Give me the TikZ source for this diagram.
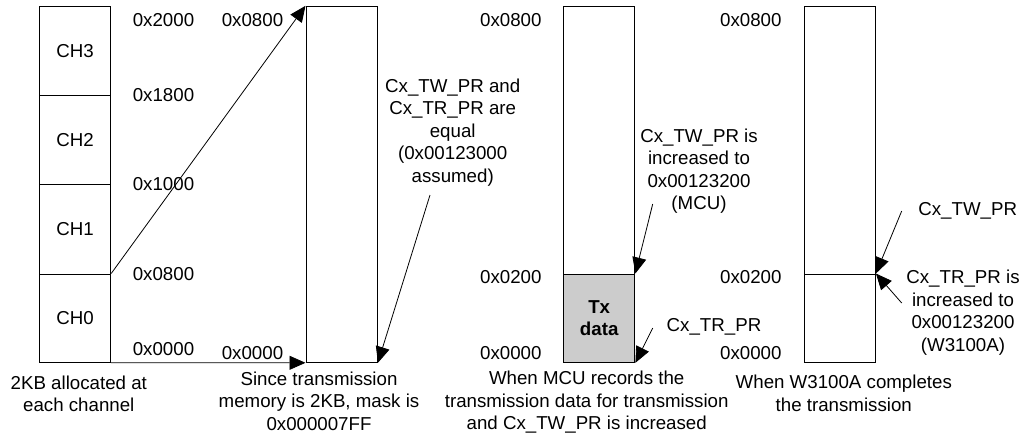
\documentclass[tikz,border=0pt]{standalone}
\usepackage{fontspec}
\setmainfont{Liberation Sans}
\usetikzlibrary{arrows.meta}
\definecolor{txgray}{HTML}{CCCCCC}
\begin{document}
\begin{tikzpicture}[x=1pt,y=-1pt,
  font=\fontsize{18.7}{22.5}\selectfont,
  membox/.style={draw,line width=1pt,minimum width=71.4pt,inner sep=0pt},
  lbl/.style={inner sep=0pt,align=center},
  arr/.style={line width=0.8pt,-{Triangle[length=16pt,width=14pt]}},
  ln/.style={line width=0.8pt}]
\useasboundingbox (0,0) rectangle (1025,440);
% channel box
\node[membox,minimum height=89.4pt] (ch3) at (75,51.0) {CH3};
\node[membox,minimum height=88.6pt] (ch2) at (75,140.0) {CH2};
\node[membox,minimum height=89.7pt] (ch1) at (75,229.15) {CH1};
\node[membox,minimum height=88.3pt] (ch0) at (75,318.15) {CH0};
\node[lbl] (a2000) at (163.5,20) {0x2000};
\node[lbl] (a1800) at (163.5,95) {0x1800};
\node[lbl] (a1000) at (163.5,184) {0x1000};
\node[lbl] (a0800) at (163.5,274) {0x0800};
\node[lbl] (a0000) at (163.5,349) {0x0000};
\node[lbl] (cap1) at (78.8,394) {2KB allocated at\\each channel};
% box 2
\node[membox,minimum height=356pt] (m2) at (341.7,184.3) {};
\node[lbl] (b0800) at (252.5,20) {0x0800};
\node[lbl] (b0000) at (252.5,353) {0x0000};
\node[lbl] (note1) at (452.7,132.3) {Cx\_TW\_PR and\\Cx\_TR\_PR are\\equal\\(0x00123000\\assumed)};
\coordinate (n1s) at (430,195);
\node[lbl] (cap2) at (319,401) {Since transmission\\memory is 2KB, mask is\\0x000007FF};
\draw[arr] (ch0.north east) -- (m2.north west);
\draw[arr] (ch0.south east) -- (m2.south west);
\draw[arr] (n1s) -- (m2.south east);
% box 3
\node[membox,minimum height=356pt] (m3) at (599.2,184.3) {};
\node[membox,minimum height=88.3pt,fill=txgray,font=\fontsize{18.7}{22.5}\selectfont\bfseries,align=center] (tx) at (599.2,318.15) {Tx\\data};
\node[lbl] (c0800) at (510.8,20) {0x0800};
\node[lbl] (c0200) at (510.8,277) {0x0200};
\node[lbl] (c0000) at (510.8,353) {0x0000};
\node[lbl] (note3) at (699,171) {Cx\_TW\_PR is\\increased to\\0x00123200\\(MCU)};
\node[lbl] (trpr3) at (714,326.7) {Cx\_TR\_PR};
\coordinate (n3s) at (652.7,204);
\coordinate (t3s) at (652.7,328);
\draw[arr] (n3s) -- (tx.north east);
\draw[arr] (t3s) -- (tx.south east);
\node[lbl] (cap3) at (586.7,402.5) {When MCU records the\\transmission data for transmission\\and Cx\_TW\_PR is increased};
% box 4
\node[membox,minimum height=356pt] (m4) at (839.7,184.3) {};
\node[membox,minimum height=88.3pt] (m4b) at (839.7,318.15) {};
\node[lbl] (d0800) at (750.8,20) {0x0800};
\node[lbl] (d0200) at (750.8,277) {0x0200};
\node[lbl] (d0000) at (750.8,353) {0x0000};
\node[lbl] (twpr4) at (967.7,210.7) {Cx\_TW\_PR};
\node[lbl] (note4) at (963,312.5) {Cx\_TR\_PR is\\increased to\\0x00123200\\(W3100A)};
\coordinate (w4s) at (901.7,211);
\coordinate (r4s) at (901.7,303);
\draw[arr] (w4s) -- (m4b.north east);
\draw[arr] (r4s) -- (m4b.north east);
\node[lbl] (cap4) at (843.8,393.5) {When W3100A completes\\the transmission};
\end{tikzpicture}
\end{document}
